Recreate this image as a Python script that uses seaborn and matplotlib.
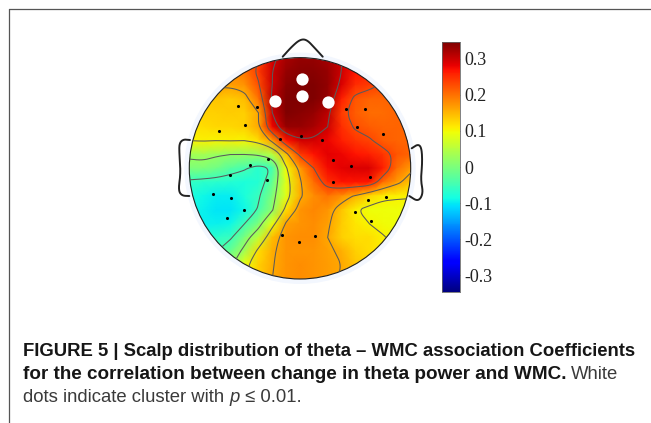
import numpy as np
import matplotlib
matplotlib.use('Agg')
import matplotlib.pyplot as plt
from matplotlib.patches import Circle
import seaborn as sns

W, H = 651, 423

# scalp values, 17 x 17 samples over the head's bounding box
row_00 = [.16, .16, .17, .18, .20, .23, .29, .32, .33, .33, .32, .30, .27, .25, .24, .23, .23]
row_01 = [.15, .15, .16, .18, .20, .24, .30, .33, .34, .34, .33, .30, .27, .26, .25, .24, .24]
row_02 = [.14, .15, .165, .165, .175, .225, .30, .34, .35, .35, .335, .29, .25, .24, .225, .22, .22]
row_03 = [.13, .135, .14, .135, .145, .20, .31, .345, .35, .35, .33, .26, .22, .21, .21, .21, .21]
row_04 = [.125, .13, .13, .135, .13, .16, .30, .345, .34, .33, .31, .24, .215, .205, .205, .21, .21]
row_05 = [.115, .12, .125, .125, .13, .16, .28, .33, .33, .32, .30, .25, .225, .215, .21, .21, .21]
row_06 = [.105, .108, .105, .107, .105, .12, .17, .27, .295, .295, .28, .26, .245, .235, .215, .21, .21]
row_07 = [.03, .035, .025, .02, .02, .025, .05, .145, .24, .27, .285, .28, .27, .26, .245, .22, .21]
row_08 = [.0, .0, -.01, -.03, -.045, -.07, -.045, .10, .17, .23, .275, .285, .29, .29, .26, .205, .17]
row_09 = [-.06, -.065, -.07, -.075, -.08, -.075, -.02, .085, .155, .205, .25, .27, .27, .265, .205, .17, .14]
row_10 = [-.08, -.09, -.10, -.10, -.08, -.055, .0, .085, .155, .18, .20, .18, .155, .125, .11, .108, .107]
row_11 = [-.09, -.095, -.105, -.105, -.09, -.045, .015, .12, .175, .185, .175, .14, .107, .097, .096, .096, .096]
row_12 = [-.09, -.095, -.095, -.09, -.05, .0, .09, .165, .175, .18, .165, .135, .115, .105, .098, .096, .096]
row_13 = [-.07, -.07, -.065, -.055, .0, .055, .145, .175, .18, .18, .16, .13, .12, .12, .107, .098, .096]
row_14 = [-.05, -.05, -.05, -.015, .035, .12, .155, .175, .175, .175, .165, .155, .13, .12, .11, .105, .10]
row_15 = [.0, .0, .0, .01, .095, .13, .158, .175, .18, .175, .17, .16, .14, .125, .115, .105, .10]
row_16 = [.05, .05, .05, .06, .10, .13, .16, .175, .18, .175, .17, .155, .14, .125, .115, .105, .10]
scalp = np.array([row_00, row_01, row_02, row_03, row_04, row_05, row_06, row_07, row_08,
                  row_09, row_10, row_11, row_12, row_13, row_14, row_15, row_16])

contour_levels = [-.05, .02, .105, .16, .23, .30]
cbar_ticks = [.3, .2, .1, 0, -.1, -.2, -.3]
cbar_labels = ['0.3', '0.2', '0.1', '0', '-0.1', '-0.2', '-0.3']

# sensor positions, in image pixels
sensor_x = [238.3, 257.3, 245, 218.7, 279.7, 300.7, 321.7, 345.7, 364.7, 357.3, 383, 332.7, 351, 370.3, 333,
            268.3, 249.7, 230, 266.7, 213, 230.7, 244, 227, 368.3, 386, 354.7, 371.3, 282, 298.7, 315.3]
sensor_y = [106, 107.3, 124.7, 130.7, 139.3, 136, 140.3, 108.7, 108.7, 127, 134, 160.3, 166.3, 177.3, 181.7,
            159, 164.7, 175, 180.3, 193.7, 197.7, 209.7, 218.3, 200.3, 197, 212, 221, 235, 241.7, 235.7]
cluster_x = [301.7, 301.7, 275, 328]
cluster_y = [79.3, 96, 101.3, 102.3]

# head outline pieces, in image pixels
nose_x = [282.7, 291.7, 300, 306.7, 315, 322.7]
nose_y = [56.7, 46.7, 39.5, 39.5, 48.3, 56.7]
ear_l_x = [190, 183.3, 179.3, 179.3, 180.7, 178.3, 181.7, 189.3]
ear_l_y = [140, 139.3, 143.3, 153.3, 173.3, 190, 195.7, 196]
ear_r_x = [411.7, 418.3, 421.7, 422.3, 420.7, 423.3, 418.3, 409.3]
ear_r_y = [148.3, 144, 148.3, 163.3, 180, 193.3, 201.7, 196]

CX, CY, RAD = 300.0, 168.3, 110.7


def to_grid(px, py):
    return (np.array(px) - (CX - RAD)) / (2 * RAD) * 16, (np.array(py) - (CY - RAD)) / (2 * RAD) * 16


def round_line(pts, n=4):
    # corner cutting, only so the contour lines do not look faceted
    for _ in range(n):
        a, b = pts[:-1], pts[1:]
        mid = np.empty((2 * len(a), 2))
        mid[0::2] = .75 * a + .25 * b
        mid[1::2] = .25 * a + .75 * b
        pts = np.vstack([pts[:1], mid, pts[-1:]])
    return pts


def chain(x, y, parts, size):
    # write text pieces one after the other on the same line
    for s, kw in parts:
        t = fig.text(x / W, 1 - y / H, s, fontsize=size, va='baseline', **kw)
        x = t.get_window_extent(fig.canvas.get_renderer()).x1


sns.set_theme(style='white')
plt.rcParams['font.family'] = ['Liberation Sans', 'DejaVu Sans']

fig = plt.figure(figsize=(W / 100, H / 100), dpi=100)
ax = fig.add_axes([(CX - RAD) / W, 1 - (CY + RAD) / H, 2 * RAD / W, 2 * RAD / H])
cax = fig.add_axes([441.7 / W, 1 - 291.7 / H, 18.3 / W, 249.4 / H])

sns.heatmap(scalp, ax=ax, cbar_ax=cax, cmap='jet', vmin=-.346, vmax=.346, shading='gouraud',
            xticklabels=False, yticklabels=False, cbar_kws={'ticks': cbar_ticks})
ax.set_xlim(0, 16)
ax.set_ylim(16, 0)
ax.axis('off')

head = Circle((8, 8), 8, transform=ax.transData, fc='none', ec='none')
ax.add_patch(head)
ax.collections[0].set_clip_path(head)
ax.add_patch(Circle((8, 8), 8.36, fc='#f3f7fe', ec='none', zorder=0, clip_on=False))

cs = ax.contour(scalp, levels=contour_levels, colors='#555555', linewidths=0.7)
for path in cs.get_paths():
    for piece in path.to_polygons(closed_only=False):
        if len(piece) > 2:
            xy = round_line(piece)
            ax.plot(xy[:, 0], xy[:, 1], color='#5a5a5a', lw=0.75, clip_path=head)
cs.remove()
ax.add_patch(Circle((8, 8), 8, fc='none', ec='#222222', lw=0.8, clip_on=False))

for px, py in [(nose_x, nose_y), (ear_l_x, ear_l_y), (ear_r_x, ear_r_y)]:
    gx, gy = to_grid(px, py)
    xy = round_line(np.column_stack([gx, gy]))
    ax.plot(xy[:, 0], xy[:, 1], color='#222222', lw=1.4, clip_on=False, solid_capstyle='round')

gx, gy = to_grid(sensor_x, sensor_y)
sns.scatterplot(x=gx, y=gy, ax=ax, color='black', s=5, linewidth=0, zorder=5)
gx, gy = to_grid(cluster_x, cluster_y)
sns.scatterplot(x=gx, y=gy, ax=ax, color='white', s=78, linewidth=0, zorder=6)
ax.set_xlim(0, 16)
ax.set_ylim(16, 0)

cax.set_yticklabels(cbar_labels, family='Liberation Serif', fontsize=13, color='#222222')
cax.tick_params(axis='y', length=2, width=0.5, direction='in', pad=3, color='#555555', left=False, right=True)
for sp in cax.spines.values():
    sp.set_visible(True)
    sp.set_linewidth(0.4)
    sp.set_edgecolor('#666666')

# frame of the figure box
fig.add_artist(plt.Line2D([9 / W, 9 / W], [0, 1 - 9.5 / H], color='#555555', lw=0.9))
fig.add_artist(plt.Line2D([9 / W, 1], [1 - 9.5 / H, 1 - 9.5 / H], color='#555555', lw=0.9))

bold = {'fontweight': 'bold', 'color': '#161616'}
light = {'color': '#3a3a3a'}
chain(23, 356, [('FIGURE 5 | Scalp distribution of theta \u2013 WMC association Coefficients', bold)], 13.35)
chain(23, 379, [('for the correlation between change in theta power and WMC.', bold)], 13.6)
chain(571, 379, [('White', light)], 13.35)
chain(23, 402, [('dots indicate cluster with ', light), ('p', dict(light, fontstyle='italic')),
                (' \u2264 0.01.', light)], 13.35)

fig.savefig('out.png', dpi=100)
